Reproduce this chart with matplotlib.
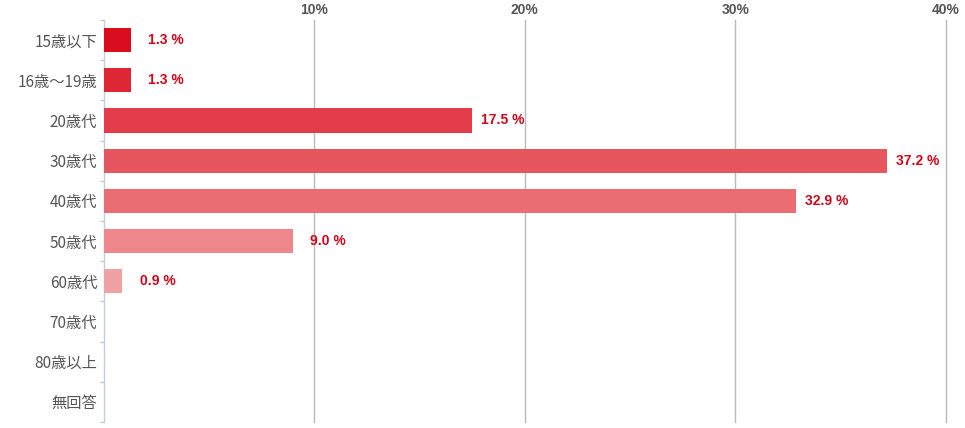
import matplotlib
matplotlib.use("Agg")
import matplotlib.pyplot as plt
import numpy as np

categories = ["15歳以下", "16歳〜19歳", "20歳代", "30歳代", "40歳代", "50歳代", "60歳代", "70歳代", "80歳以上", "無回答"]
values = [1.3, 1.3, 17.5, 37.2, 32.9, 9.0, 0.9, 0.0, 0.0, 0.0]
colors = ["#da0d1e", "#df2635", "#e33d4b", "#e5565f", "#ea6d74", "#ee878c", "#f0a1a4", "#f3b9bb", "#f6d0d1", "#f9e6e7"]
xticks = [10, 20, 30, 40]
xticklabels = ["10%", "20%", "30%", "40%"]

W, H = 965, 428
fig = plt.figure(figsize=(W / 100, H / 100), dpi=100)
ax = fig.add_axes([103.5 / W, 1 - 422 / H, (946 - 103.5) / W, (422 - 20) / H])

y = np.arange(len(categories))
ax.barh(y, values, height=0.6, color=colors, zorder=3)
ax.set_ylim(len(categories) - 0.5, -0.5)
ax.set_xlim(0, 40)

for i, v in enumerate(values):
    if v <= 0:
        continue
    off = 6.5 if v > 10 else 12.5
    ax.annotate(f"{v:.1f} %", (v, i), xytext=(off, 0), textcoords="offset points",
                va="center", ha="left", color="#d0061b", fontsize=10,
                fontweight="bold", family=["Liberation Sans", "DejaVu Sans"])

ax.set_yticks(y)
ax.set_yticklabels(categories, family=["Noto Sans CJK JP", "DejaVu Sans"], fontsize=11, color="#555555")
ax.tick_params(axis="y", which="major", length=0, pad=4.5)
ax.set_yticks(np.arange(len(categories) + 1) - 0.5, minor=True)
ax.tick_params(axis="y", which="minor", length=3, color="#c5cdd8", width=1)

ax.xaxis.tick_top()
ax.set_xticks(xticks)
ax.set_xticklabels(xticklabels, fontsize=10, fontweight="bold", color="#555555", family=["Liberation Sans", "DejaVu Sans"])
ax.tick_params(axis="x", length=0, pad=2)
ax.grid(axis="x", color="#bbbbbb", linewidth=1, zorder=0)
for gl in ax.get_xgridlines():
    gl.set_clip_on(False)

for s in ["top", "right", "bottom"]:
    ax.spines[s].set_visible(False)
ax.spines["left"].set_color("#c5cdd8")
ax.spines["left"].set_linewidth(1)

fig.savefig("out.png", dpi=100)
